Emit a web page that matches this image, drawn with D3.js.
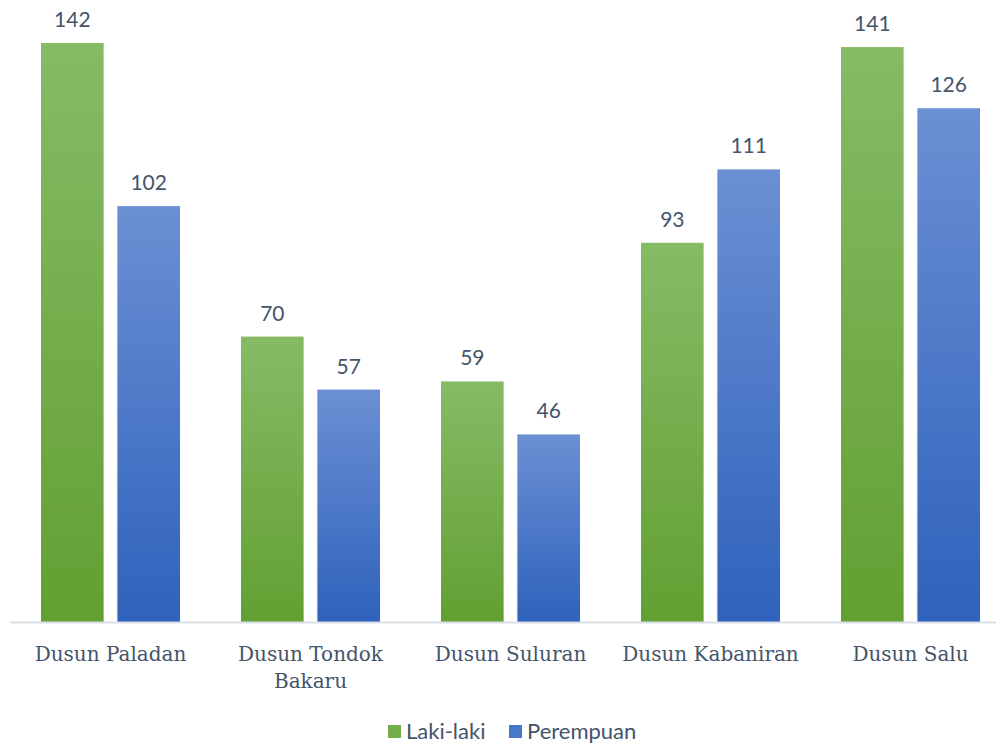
<!DOCTYPE html>
<html><head><meta charset="utf-8">
<script src="https://cdn.jsdelivr.net/npm/d3@7/dist/d3.min.js"></script>
<style>body{margin:0;background:#fff}svg{display:block}</style>
</head><body>
<svg id="c" width="996" height="744"></svg>
<script>
const categories = [["Dusun Paladan"], ["Dusun Tondok", "Bakaru"], ["Dusun Suluran"], ["Dusun Kabaniran"], ["Dusun Salu"]];
const seriesNames = ["Laki-laki", "Perempuan"];
const lakiLaki = [142, 70, 59, 93, 141];
const perempuan = [102, 57, 46, 111, 126];

const svg = d3.select("#c");
const textColor = "#44546a";
const baseY = 622;
const x0 = d3.scaleBand().domain(d3.range(categories.length)).range([10, 1010]).paddingInner(0).paddingOuter(0);
const x1 = d3.scaleBand().domain([0, 1]).range([31, 170]).paddingInner(0.18).paddingOuter(0);
const y = d3.scaleLinear().domain([0, 142]).range([baseY, 43]);

const defs = svg.append("defs");
const grads = [["gG", "#86bb66", "#62a032"], ["gB", "#6b8fd3", "#2e62bc"]];
grads.forEach(([id, top, bot]) => {
  const g = defs.append("linearGradient").attr("id", id).attr("x1", 0).attr("y1", 0).attr("x2", 0).attr("y2", 1);
  g.append("stop").attr("offset", "0%").attr("stop-color", top);
  g.append("stop").attr("offset", "100%").attr("stop-color", bot);
});
const fills = ["url(#gG)", "url(#gB)"];
const legendFill = ["#74ad4c", "#4a78c9"];
const series = [lakiLaki, perempuan];

series.forEach((vals, s) => {
  const g = svg.append("g");
  g.selectAll("rect").data(vals).join("rect")
    .attr("x", (d, i) => x0(i) + x1(s))
    .attr("y", d => y(d))
    .attr("width", x1.bandwidth())
    .attr("height", d => baseY - y(d))
    .attr("fill", fills[s]);
  g.selectAll("text").data(vals).join("text")
    .attr("x", (d, i) => x0(i) + x1(s) + x1.bandwidth() / 2)
    .attr("y", d => y(d) - 16)
    .attr("text-anchor", "middle")
    .attr("font-family", "Lato, 'Open Sans', sans-serif")
    .attr("font-size", 21)
    .attr("fill", textColor)
    .text(d => d);
});

// axis line
svg.append("line").attr("x1", 10).attr("x2", 996).attr("y1", baseY + 0.5).attr("y2", baseY + 0.5)
  .attr("stroke", "#d9dee6").attr("stroke-width", 2);

// category labels
const cl = svg.append("g");
categories.forEach((lines, i) => {
  const cx = x0(i) + x0.bandwidth() / 2 + 0.5;
  const t = cl.append("text")
    .attr("x", cx)
    .attr("y", 661)
    .attr("text-anchor", "middle")
    .attr("font-family", "'DejaVu Serif', 'Liberation Serif', serif")
    .attr("font-size", 20)
    .attr("fill", textColor);
  lines.forEach((ln, k) => {
    t.append("tspan").attr("x", cx).attr("dy", k === 0 ? 0 : 27).text(ln);
  });
});

// legend
const legX = [388, 509];
const lg = svg.append("g");
seriesNames.forEach((n, s) => {
  lg.append("rect").attr("x", legX[s]).attr("y", 725).attr("width", 13).attr("height", 13).attr("fill", legendFill[s]);
  lg.append("text").attr("x", legX[s] + 18).attr("y", 738.5)
    .attr("font-family", "Lato, 'Open Sans', sans-serif").attr("font-size", 22).attr("fill", textColor).text(n);
});
</script>
</body></html>
